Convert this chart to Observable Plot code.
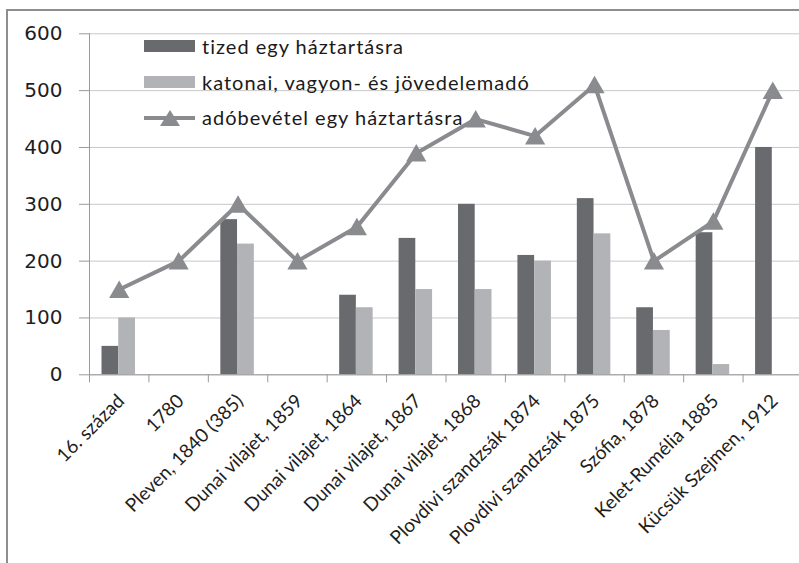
<!DOCTYPE html>
<html>
<head>
<meta charset="utf-8">
<script src="https://cdn.jsdelivr.net/npm/d3@7"></script>
<script src="https://cdn.jsdelivr.net/npm/@observablehq/plot@0.6"></script>
<style>
  html, body { margin: 0; padding: 0; background: #fff; overflow: hidden; }
  #wrap { position: relative; width: 799px; height: 563px; }
  #frame { position: absolute; left: 6px; top: 9px; width: 900px; height: 700px; border: 2px solid #8e8e8e; pointer-events: none; }
  #legend { position: absolute; left: 144px; top: 33px; font-family: Lato, "Open Sans", sans-serif; font-size: 20px; letter-spacing: 1px; color: #1a1a1a; }
  .row { position: absolute; left: 0; height: 24px; display: flex; align-items: center; white-space: nowrap; }
  .sw { width: 51px; height: 12px; margin-right: 7px; }
  .lsw { width: 51px; height: 20px; margin-right: 7px; }
</style>
</head>
<body>
<div id="wrap"></div>
<script>
const categories = [
  "16. század", "1780", "Pleven, 1840 (385)", "Dunai vilajet, 1859",
  "Dunai vilajet, 1864", "Dunai vilajet, 1867", "Dunai vilajet, 1868",
  "Plovdivi szandzsák 1874", "Plovdivi szandzsák 1875", "Szófia, 1878",
  "Kelet-Rumélia 1885", "Kücsük Szejmen, 1912"
];
const tized =      [50, null, 273, null, 140, 240, 300, 210, 310, 118, 250, 400];
const katonai =    [100, null, 230, null, 118, 150, 150, 200, 248, 78, 18, null];
const adobevetel = [150, 200, 300, 200, 260, 390, 450, 420, 510, 200, 270, 500];
const yTicks = [0, 100, 200, 300, 400, 500, 600];
const seriesNames = ["tized egy háztartásra", "katonai, vagyon- és jövedelemadó", "adóbevétel egy háztartásra"];

const cDark = "#696a6e", cLight = "#b1b3b6", cLine = "#8a8b8f";

const rows = categories.map((c, i) => ({cat: c, tized: tized[i], katonai: katonai[i], ado: adobevetel[i]}));

const xRange = [89, 802];
const bw = (xRange[1] - xRange[0]) / categories.length;

const chart = Plot.plot({
  width: 799,
  height: 563,
  marginLeft: 89,
  marginRight: 0,
  marginTop: 33.3,
  marginBottom: 563 - 374.3,
  style: {background: "transparent", overflow: "visible"},
  x: {type: "band", domain: categories, range: xRange, padding: 0, round: false},
  y: {domain: [0, 600]},
  marks: [
    Plot.gridY(yTicks, {stroke: "#c8c8c8", strokeOpacity: 1}),
    Plot.barY(rows.filter(d => d.tized != null), {x: "cat", y: "tized", fill: cDark, insetLeft: 12.5, insetRight: bw - 29.2}),
    Plot.barY(rows.filter(d => d.katonai != null), {x: "cat", y: "katonai", fill: cLight, insetLeft: 29.2, insetRight: bw - 46}),
    Plot.frame({anchor: "left", stroke: "#9a9a9a"}),
    Plot.frame({anchor: "bottom", stroke: "#9a9a9a"}),
    Plot.axisY({ticks: yTicks, tickSize: 10, tickPadding: 17, stroke: "#9a9a9a", fill: "#1e1e1e",
      fontSize: 20, fontFamily: "DejaVu Sans", label: null}),
    Plot.axisX({ticks: categories, tickSize: 8, tickFormat: () => "", dx: -bw / 2, stroke: "#9a9a9a", label: null}),
    Plot.axisX({tickSize: 0, tickPadding: 23, tickRotate: -45, dx: 2, fill: "#1e1e1e",
      fontSize: 19, fontFamily: "Lato", label: null, ariaLabel: "x-labels"}),
    Plot.line(rows, {x: "cat", y: "ado", stroke: cLine, strokeWidth: 4}),
    Plot.dot(rows, {x: "cat", y: "ado", symbol: "triangle", fill: cLine, r: 7.5, dy: 2.5})
  ]
});

d3.select(chart).selectAll('g[aria-label="x-labels"] text').style("letter-spacing", "0.4px");

const wrap = document.getElementById("wrap");
wrap.appendChild(chart);
const frame = document.createElement("div");
frame.id = "frame";
wrap.appendChild(frame);

const legend = document.createElement("div");
legend.id = "legend";
legend.innerHTML = `
  <div class="row" style="top:1px"><div class="sw" style="background:${cDark}"></div><span>${seriesNames[0]}</span></div>
  <div class="row" style="top:37px"><div class="sw" style="background:${cLight}"></div><span>${seriesNames[1]}</span></div>
  <div class="row" style="top:72px"><svg class="lsw" width="51" height="20"><line x1="0" x2="51" y1="11" y2="11" stroke="${cLine}" stroke-width="4"/><path d="M26,3 L36,19 L16,19 Z" fill="${cLine}"/></svg><span>${seriesNames[2]}</span></div>
`;
wrap.appendChild(legend);
</script>
</body>
</html>
